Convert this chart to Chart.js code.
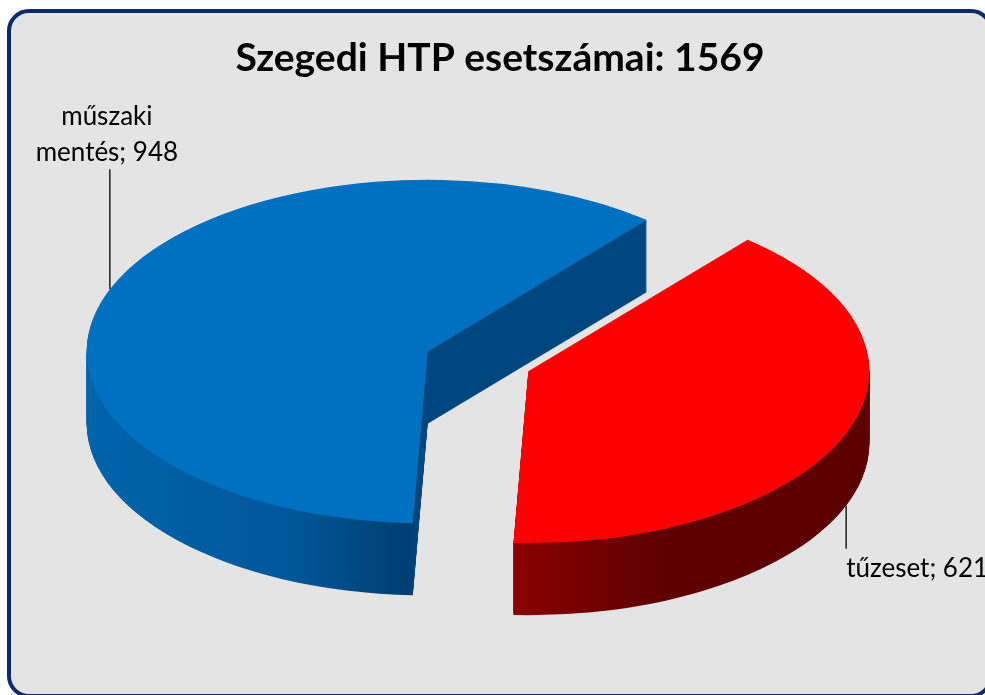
<!DOCTYPE html>
<html>
<head>
<meta charset="utf-8">
<script src="https://cdn.jsdelivr.net/npm/chart.js@4.4.0/dist/chart.umd.min.js"></script>
<style>
  html, body { margin: 0; padding: 0; background: #fff; overflow: hidden; }
  #frame {
    position: absolute; left: 7px; top: 9px;
    width: 978px; height: 681px;
    border: 4px solid #0b2b6b; border-radius: 22px;
    background: #e4e4e4;
  }
  #wrap { position: absolute; left: 0; top: 0; width: 985px; height: 695px; }
</style>
</head>
<body>
<div id="frame"></div>
<div id="wrap"><canvas id="pieChart" width="985" height="695"></canvas></div>
<script>
// data
const categories = ['műszaki mentés', 'tűzeset'];
const caseCounts = [948, 621];
const titleText = 'Szegedi HTP esetszámai';

// 3D look
const tilt = 0.504;     // vertical squash of the pie
const depth = 72;       // thickness in px
const sliceStyles = [
    { top: '#0070c0', side: [[0, '#0064ab'], [0.3, '#00579a'], [0.47, '#003f72'], [0.49, '#00477f'], [1, '#00477f']] },
    { top: '#fe0000', side: [[0, '#8c0000'], [0.48, '#8a0000'], [0.68, '#600000'], [1, '#5c0000']] }
];

const total = caseCounts.reduce((a, b) => a + b, 0);

function sliceShift(a) {
    const mid = (a.startAngle + a.endAngle) / 2;
    const off = a.options.offset || 0;
    return { mid, ox: Math.cos(mid) * off, oy: Math.sin(mid) * off };
}

function slicePath(ctx, a, dz) {
    const { ox, oy } = sliceShift(a);
    ctx.save();
    ctx.translate(a.x, a.y + dz);
    ctx.scale(1, tilt);
    ctx.beginPath();
    ctx.moveTo(ox, oy);
    ctx.arc(ox, oy, a.outerRadius, a.startAngle, a.endAngle);
    ctx.closePath();
    ctx.restore();
}

function wrapText(ctx, text, maxWidth) {
    const words = text.split(' ');
    const lines = [];
    let line = '';
    words.forEach(w => {
        const test = line ? line + ' ' + w : w;
        if (line && ctx.measureText(test).width > maxWidth) {
            lines.push(line);
            line = w;
        } else {
            line = test;
        }
    });
    lines.push(line);
    return lines;
}

const pie3d = {
    id: 'pie3d',
    beforeDatasetsDraw(chart) {
        const ctx = chart.ctx;
        const arcs = chart.getDatasetMeta(0).data;
        arcs.forEach((a, i) => {
            const st = sliceStyles[i];
            const { ox } = sliceShift(a);
            const cx = a.x + ox;
            const grad = ctx.createLinearGradient(cx - a.outerRadius, 0, cx + a.outerRadius, 0);
            st.side.forEach(([p, c]) => grad.addColorStop(p, c));
            for (let dz = depth; dz > 0; dz--) {
                slicePath(ctx, a, dz);
                ctx.fillStyle = grad;
                ctx.fill();
            }
            slicePath(ctx, a, 0);
            ctx.fillStyle = st.top;
            ctx.fill();
        });
        return false;
    },
    afterDraw(chart) {
        const ctx = chart.ctx;
        const arcs = chart.getDatasetMeta(0).data;
        ctx.save();

        // title, centred on the frame
        const fr = document.getElementById('frame').getBoundingClientRect();
        ctx.font = 'bold 39px Lato';
        ctx.fillStyle = '#000';
        ctx.textAlign = 'center';
        ctx.textBaseline = 'alphabetic';
        ctx.fillText(titleText + ': ' + total, (fr.left + fr.right) / 2, 71);

        // data labels with leader lines
        ctx.font = '26px Lato';
        ctx.strokeStyle = '#000';
        ctx.lineWidth = 1.3;
        arcs.forEach((a, i) => {
            const { mid, ox, oy } = sliceShift(a);
            const px = a.x + ox + Math.cos(mid) * a.outerRadius;
            let py = a.y + (oy + Math.sin(mid) * a.outerRadius) * tilt;
            const lines = wrapText(ctx, categories[i] + '; ' + caseCounts[i], 160);
            ctx.beginPath();
            if (Math.sin(mid) < 0) {
                ctx.moveTo(px, py);
                ctx.lineTo(px, py - 120);
                ctx.stroke();
                ctx.textAlign = 'center';
                lines.forEach((t, j) => {
                    ctx.fillText(t, px - 3, py - 128 - (lines.length - 1 - j) * 36);
                });
            } else {
                py += depth;
                ctx.moveTo(px, py);
                ctx.lineTo(px, py + 43);
                ctx.stroke();
                ctx.textAlign = 'left';
                lines.forEach((t, j) => {
                    ctx.fillText(t, px, py + 71 + j * 36);
                });
            }
        });
        ctx.restore();
    }
};

const ctxPie = document.getElementById('pieChart').getContext('2d');
const pieChart = new Chart(ctxPie, {
    type: 'pie',
    data: {
        labels: categories,
        datasets: [{
            data: caseCounts,
            backgroundColor: sliceStyles.map(s => s.top),
            borderWidth: 0,
            offset: 54
        }]
    },
    options: {
        responsive: false,
        animation: false,
        rotation: 182.5,
        radius: 341,
        layout: { padding: { left: 0, right: 29, top: 28, bottom: 0 } },
        plugins: {
            legend: { display: false },
            tooltip: { enabled: false },
            title: { display: false }
        }
    },
    plugins: [pie3d]
});
</script>
</body>
</html>
